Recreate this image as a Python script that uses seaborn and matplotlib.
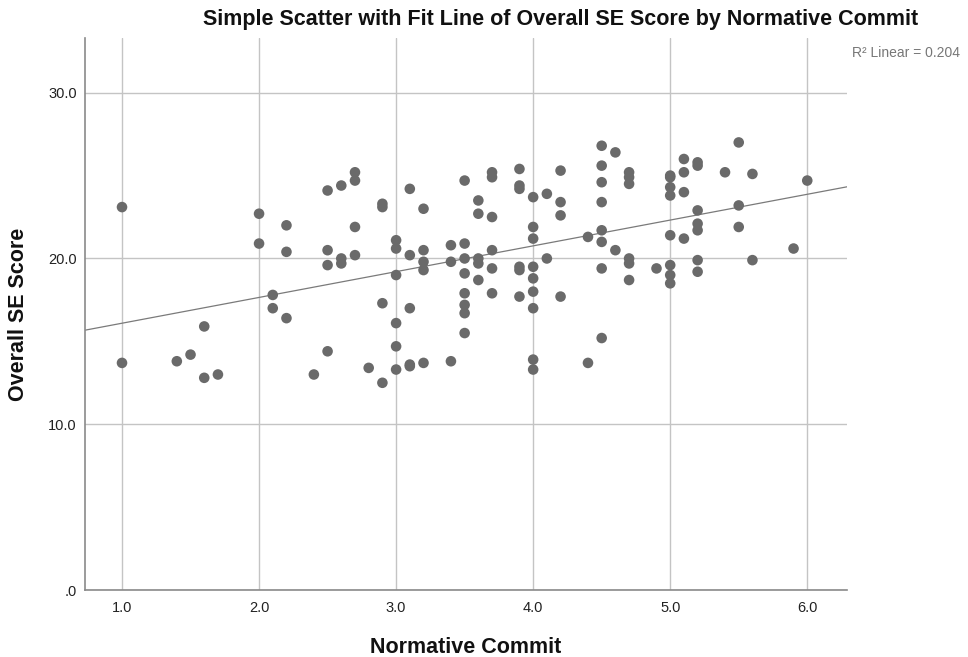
import numpy as np
import pandas as pd
import matplotlib
matplotlib.use("Agg")
import matplotlib.pyplot as plt
import seaborn as sns

# Normative commitment scores and their overall SE scores
normative_commit = [
    1.0, 1.0,
    1.4, 1.5, 1.6, 1.6, 1.7,
    2.0, 2.0, 2.1, 2.1, 2.2, 2.2, 2.2,
    2.4, 2.5, 2.5, 2.5, 2.5, 2.6, 2.6, 2.6,
    2.7, 2.7, 2.7, 2.7, 2.8, 2.9, 2.9, 2.9, 2.9,
    3.0, 3.0, 3.0, 3.0, 3.0, 3.0,
    3.1, 3.1, 3.1, 3.1, 3.1,
    3.2, 3.2, 3.2, 3.2, 3.2,
    3.4, 3.4, 3.4,
    3.5, 3.5, 3.5, 3.5, 3.5, 3.5, 3.5, 3.5,
    3.6, 3.6, 3.6, 3.6, 3.6,
    3.7, 3.7, 3.7, 3.7, 3.7, 3.7,
    3.9, 3.9, 3.9, 3.9, 3.9, 3.9,
    4.0, 4.0, 4.0, 4.0, 4.0, 4.0, 4.0, 4.0, 4.0,
    4.1, 4.1, 4.2, 4.2, 4.2, 4.2,
    4.4, 4.4,
    4.5, 4.5, 4.5, 4.5, 4.5, 4.5, 4.5, 4.5,
    4.6, 4.6,
    4.7, 4.7, 4.7, 4.7, 4.7, 4.7,
    4.9,
    5.0, 5.0, 5.0, 5.0, 5.0, 5.0, 5.0, 5.0,
    5.1, 5.1, 5.1, 5.1,
    5.2, 5.2, 5.2, 5.2, 5.2, 5.2, 5.2,
    5.4, 5.5, 5.5, 5.5, 5.6, 5.6, 5.9, 6.0,
]
overall_se = [
    23.1, 13.7,
    13.8, 14.2, 15.9, 12.8, 13.0,
    22.7, 20.9, 17.8, 17.0, 22.0, 20.4, 16.4,
    13.0, 24.1, 20.5, 19.6, 14.4, 24.4, 20.0, 19.7,
    25.2, 24.7, 21.9, 20.2, 13.4, 23.3, 23.1, 17.3, 12.5,
    21.1, 20.6, 19.0, 16.1, 14.7, 13.3,
    24.2, 20.2, 17.0, 13.6, 13.5,
    23.0, 20.5, 19.8, 19.3, 13.7,
    20.8, 19.8, 13.8,
    24.7, 20.9, 20.0, 19.1, 17.9, 17.2, 16.7, 15.5,
    23.5, 22.7, 20.0, 19.7, 18.7,
    25.2, 24.9, 22.5, 20.5, 19.4, 17.9,
    25.4, 24.4, 24.2, 19.5, 19.3, 17.7,
    23.7, 21.9, 21.2, 19.5, 18.8, 18.0, 17.0, 13.9, 13.3,
    23.9, 20.0, 25.3, 23.4, 22.6, 17.7,
    21.3, 13.7,
    26.8, 25.6, 24.6, 23.4, 21.7, 21.0, 19.4, 15.2,
    26.4, 20.5,
    25.2, 24.9, 24.5, 20.0, 19.7, 18.7,
    19.4,
    25.0, 24.9, 24.3, 23.8, 21.4, 19.6, 19.0, 18.5,
    26.0, 25.2, 24.0, 21.2,
    25.8, 25.6, 22.9, 22.1, 21.7, 19.9, 19.2,
    25.2, 27.0, 23.2, 21.9, 25.1, 19.9, 20.6, 24.7,
]

x_ticks = [1.0, 2.0, 3.0, 4.0, 5.0, 6.0]
x_tick_labels = ["1.0", "2.0", "3.0", "4.0", "5.0", "6.0"]
y_ticks = [0, 10, 20, 30]
y_tick_labels = [".0", "10.0", "20.0", "30.0"]
r2_label = "R\u00b2 Linear = 0.204"

df = pd.DataFrame({"Normative Commit": normative_commit,
                   "Overall SE Score": overall_se})

sns.set_theme(style="white")
plt.rcParams["font.family"] = ["Liberation Sans", "DejaVu Sans"]

fig = plt.figure(figsize=(9.68, 6.57), dpi=100)
ax = fig.add_axes([85 / 968, 1 - 590 / 657, (847 - 85) / 968, (590 - 38) / 657])

# Fix the x range first so the untruncated fit line spans the whole axis
x_range = (0.73, 6.29)
y_range = (0, 33.3)
ax.set_xlim(*x_range)
ax.set_ylim(*y_range)
ax.set_autoscale_on(False)

sns.regplot(data=df, x="Normative Commit", y="Overall SE Score", ax=ax,
            ci=None, truncate=False,
            scatter_kws=dict(s=58, color="#6a6a6a", edgecolor="none",
                             alpha=1, zorder=3),
            line_kws=dict(color="#7a7a7a", linewidth=0.9, zorder=2))
ax.set_xlim(*x_range)
ax.set_ylim(*y_range)

ax.set_xticks(x_ticks)
ax.set_xticklabels(x_tick_labels)
ax.set_yticks(y_ticks)
ax.set_yticklabels(y_tick_labels)
ax.tick_params(axis="both", length=0, labelsize=10.5, colors="#222222")
ax.tick_params(axis="y", pad=6)
ax.tick_params(axis="x", pad=8)

ax.grid(True, color="#c4c4c4", linewidth=1.0, zorder=0)
ax.set_axisbelow(True)
for side in ("top", "right"):
    ax.spines[side].set_visible(False)
for side in ("left", "bottom"):
    ax.spines[side].set_color("#8a8a8a")
    ax.spines[side].set_linewidth(1.2)

ax.set_xlabel("Normative Commit", fontsize=15.5, fontweight="bold",
              color="#111111", labelpad=16)
ax.set_ylabel("Overall SE Score", fontsize=15.5, fontweight="bold",
              color="#111111", labelpad=14)

fig.text(561 / 968, 1 - 20 / 657,
         "Simple Scatter with Fit Line of Overall SE Score by Normative Commit",
         ha="center", va="center", fontsize=15.5, fontweight="bold",
         color="#111111")
fig.text(852 / 968, 1 - 53 / 657, r2_label, ha="left", va="center",
         fontsize=10, color="#777777")

fig.savefig("out.png", dpi=100)
